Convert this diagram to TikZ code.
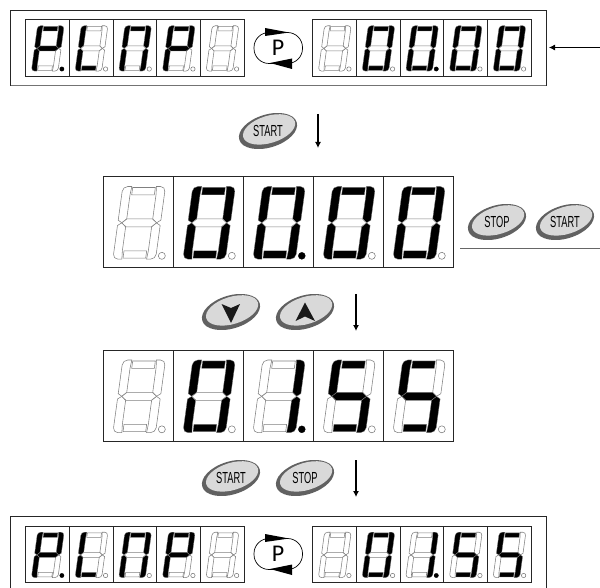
\documentclass[tikz,border=0pt]{standalone}
\usepackage{fontspec}
\setmainfont{Liberation Sans}
\newfontfamily\thinfont{Carlito}
\usetikzlibrary{arrows.meta}
\tikzset{
  x=1pt,y=-1pt,
  seg0/.style={draw=black!50,fill=white,line width=.55pt},
  seg1/.style={draw=black!50,fill=black,line width=.3pt},
  dot0/.style={draw=black!55,fill=white,line width=.5pt},
  dot1/.style={draw=black,fill=black,line width=.3pt},
  cellbox/.style={draw=black!85,line width=.7pt,fill=white},
  framebox/.style={draw=black!85,line width=.8pt},
  flow/.style={draw=black,line width=1.1pt,-{Latex[length=6pt,width=6pt]}},
  btntext/.style={inner sep=0pt,font=\fontsize{16}{16}\selectfont,text=black},
}
\newcommand{\digitcell}[4]{\def\dX{#1}\def\dY{#2}\def\dS{#3}\expandafter\digitcellC#4}
\def\digitcellC#1#2#3#4#5#6#7#8{%
  \pgfmathsetmacro{\dW}{210*\dS}\pgfmathsetmacro{\dH}{273*\dS}%
  \pgfmathsetmacro{\oX}{\dX+28*\dS}\pgfmathsetmacro{\oY}{\dY+249*\dS}%
  \pgfmathsetmacro{\sk}{0.137*\dS}\pgfmathsetmacro{\Rr}{15*\dS}%
  \pgfmathsetmacro{\cX}{\dX+175*\dS}\pgfmathsetmacro{\cY}{\dY+238*\dS}\pgfmathsetmacro{\cR}{10.5*\dS}%
  \draw[cellbox] (\dX,\dY) rectangle ++(\dW,\dH);
  \begin{scope}[shift={(\oX,\oY)},x={(\dS pt,0pt)},y={(\sk pt,\dS pt)}]
    \draw[seg#1] (30,216)--(98,216)--(98,194)--(30,194)--cycle;
    \draw[seg#2] (101,219) [rounded corners=\Rr pt] -- (128,219) [sharp corners] -- (128,118)--(116,110)--(103,122)--(103,194)--cycle;
    \draw[seg#3] (101,1) [rounded corners=\Rr pt] -- (128,1) [sharp corners] -- (128,102)--(116,110)--(103,98)--(103,26)--cycle;
    \draw[seg#4] (30,26)--(98,26)--(98,4)--(30,4)--cycle;
    \draw[seg#5] (27,1) [rounded corners=\Rr pt] -- (0,1) [sharp corners] -- (0,102)--(12,110)--(25,98)--(25,26)--cycle;
    \draw[seg#6] (27,219) [rounded corners=\Rr pt] -- (0,219) [sharp corners] -- (0,118)--(12,110)--(25,122)--(25,194)--cycle;
    \draw[seg#7] (12,110)--(26,122)--(102,122)--(116,110)--(102,98)--(26,98)--cycle;
  \end{scope}
  \draw[dot#8] (\cX,\cY) circle (\cR);
}
\newcommand{\strip}[8]{%
  \digitcell{#1}{#2}{#3}{#4}%
  \digitcell{#1+210*#3}{#2}{#3}{#5}%
  \digitcell{#1+420*#3}{#2}{#3}{#6}%
  \digitcell{#1+630*#3}{#2}{#3}{#7}%
  \digitcell{#1+840*#3}{#2}{#3}{#8}%
}
\def\Pd{11001111}\def\Pn{11001110}\def\Lt{00011100}\def\Nn{11101100}
\def\Bk{00000000}\def\Zr{11111100}\def\Zd{11111101}\def\Od{01100001}\def\Fv{10110110}
\newcommand{\btn}[4]{%
  \begin{scope}[shift={(#2,#3)},rotate=17]
    \fill[black!62] (0,0) ellipse (30 and 16.5);
    \fill[black!15] (1.5,-1.2) ellipse (27 and 13.6);
  \end{scope}
  \node[btntext] (#1) at (#2,#3) {#4};
}
\newcommand{\stxt}[1]{\scalebox{.58}[1]{#1}}
\newcommand{\psym}[2]{%
  \draw[line width=.7pt,rounded corners=15pt] (254,#2-15.5) rectangle (302.5,#2+15.5);
  \fill[black] (265,#2-20)--(289,#2-15.5)--(265,#2-12)--cycle;
  \fill[black] (270,#2+15)--(292,#2+10.5)--(292,#2+21)--cycle;
  \node[inner sep=0pt,font=\thinfont\fontsize{24}{24}\selectfont] (#1) at (278,#2) {P};
}
\begin{document}
\begin{tikzpicture}
\useasboundingbox (0,0) rectangle (600,588);
\fill[white] (0,0) rectangle (600,588);
\draw[framebox] (10.5,10.5) rectangle (546,85.5);
\draw[draw=black!55,line width=1.2pt] (10.5,85.5)--(546,85.5);
\strip{25.5}{19.5}{.208}{\Pd}{\Lt}{\Nn}{\Pn}{\Bk}
\psym{ptop}{48}
\strip{312.5}{19.5}{.208}{\Bk}{\Zr}{\Zd}{\Zr}{\Zr}
\coordinate (inR) at (600,47.5);
\coordinate (inL) at (549,47.5);
\draw[flow,line width=.8pt] (inR)--(inL);
\btn{b1}{268}{131}{\stxt{START}}
\coordinate (a1s) at (318,114);
\coordinate (a1e) at (318,148);
\draw[flow] (a1s)--(a1e);
\strip{103.5}{176.5}{.3333}{\Bk}{\Zr}{\Zd}{\Zr}{\Zr}
\btn{b2}{497}{222}{\stxt{STOP}}
\btn{b3}{565}{222}{\stxt{START}}
\coordinate (lnL) at (460,248);
\coordinate (lnR) at (600,248);
\draw[draw=black!60,line width=.8pt] (lnL)--(lnR);
\btn{b4}{231}{312}{}
\fill[black!90] (221.5,304)--(231,308)--(240,304)--(231,323)--cycle;
\btn{b5}{305}{312}{}
\fill[black!90] (305,302.5)--(315,321)--(305,316.5)--(295.5,321)--cycle;
\coordinate (a2s) at (356,294);
\coordinate (a2e) at (356,331);
\draw[flow] (a2s)--(a2e);
\strip{103.5}{350}{.3333}{\Bk}{\Zr}{\Od}{\Fv}{\Fv}
\btn{b6}{231}{478}{\stxt{START}}
\btn{b7}{305}{478}{\stxt{STOP}}
\coordinate (a3s) at (356,460);
\coordinate (a3e) at (356,497);
\draw[flow] (a3s)--(a3e);
\draw[framebox] (10.5,600)--(10.5,516)--(546,516)--(546,600);
\strip{25.5}{526}{.208}{\Pd}{\Lt}{\Nn}{\Pn}{\Bk}
\psym{pbot}{554}
\strip{312.5}{526}{.208}{\Bk}{\Zr}{\Od}{\Fv}{\Fv}
\end{tikzpicture}
\end{document}
